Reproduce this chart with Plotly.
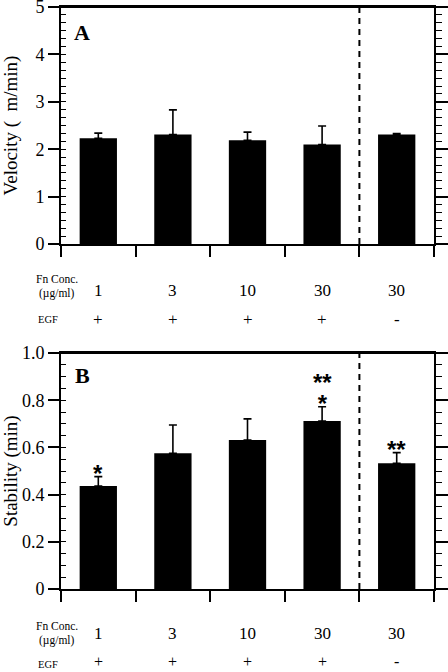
import plotly.graph_objects as go

# ---- data ----
fn_conc = ["1", "3", "10", "30", "30"]
egf = ["+", "+", "+", "+", "-"]
velocity = [2.23, 2.31, 2.19, 2.10, 2.31]
velocity_err = [0.11, 0.52, 0.17, 0.39, 0.02]
stability = [0.436, 0.575, 0.631, 0.712, 0.533]
stability_err = [0.04, 0.12, 0.09, 0.06, 0.045]
stability_sig = ["*", "", "", "**<br>*", "**"]

categories = [f"{c} {e}" for c, e in zip(fn_conc, egf)]

W, H = 448, 672
SERIF = "Liberation Serif"
BLACK = "black"

def py(px):
    return (H - px) / H

xdom = [61 / W, 434 / W]
domA = [py(244), py(7)]
domB = [py(589), py(353)]

fig = go.Figure()

err_style = dict(type="data", symmetric=False, arrayminus=[0] * 5,
                 color=BLACK, thickness=1.6, width=4)

fig.add_trace(go.Bar(x=categories, y=velocity, width=0.5, marker=dict(color=BLACK, line=dict(width=0)),
                     error_y=dict(array=velocity_err, **err_style), xaxis="x", yaxis="y",
                     showlegend=False))
fig.add_trace(go.Bar(x=categories, y=stability, width=0.5, marker=dict(color=BLACK, line=dict(width=0)),
                     error_y=dict(array=stability_err, **err_style), xaxis="x2", yaxis="y2",
                     showlegend=False))

xcommon = dict(type="category", categoryorder="array", categoryarray=categories,
               range=[-0.5, 4.5], domain=xdom, tickson="boundaries",
               ticks="outside", ticklen=11, tickwidth=1.6, tickcolor=BLACK,
               showticklabels=False, showline=True, linewidth=2, linecolor=BLACK,
               mirror=True, showgrid=False, zeroline=False, fixedrange=True, automargin=False)

yleft = dict(showline=True, linewidth=2, linecolor=BLACK, ticks="outside", ticklen=11,
             tickwidth=1.6, tickcolor=BLACK, showgrid=False, zeroline=False, ticklabeloverflow="allow",
             tickfont=dict(family=SERIF, size=18, color=BLACK),
             fixedrange=True, automargin=False)
yright = dict(showline=True, linewidth=2, linecolor=BLACK, ticks="outside", ticklen=12,
              tickwidth=1.6, tickcolor=BLACK, showgrid=False, zeroline=False,
              showticklabels=False, side="right", fixedrange=True, automargin=False)
title_font = dict(family=SERIF, size=19, color=BLACK)

fig.update_layout(
    template="none",
    xaxis=dict(anchor="y", **xcommon),
    xaxis2=dict(anchor="y2", **xcommon),
    yaxis=dict(domain=domA, anchor="x", range=[0, 5], tickvals=[0, 1, 2, 3, 4, 5],
               minor=dict(dtick=1 / 6, ticks="inside", ticklen=5, tickwidth=1.4, tickcolor=BLACK),
               title=dict(text="Velocity (  m/min)", standoff=14, font=title_font), **yleft),
    yaxis3=dict(overlaying="y", anchor="x", range=[0, 5], tickvals=[0, 1, 2, 3, 4, 5],
                minor=dict(dtick=1 / 6, ticks="outside", ticklen=6, tickwidth=1.4, tickcolor=BLACK),
                **yright),
    yaxis2=dict(domain=domB, anchor="x2", range=[0, 1.0], tickvals=[0, 0.2, 0.4, 0.6, 0.8, 1.0],
                ticktext=["0", "0.2", "0.4", "0.6", "0.8", "1.0"],
                minor=dict(dtick=0.05, ticks="inside", ticklen=5, tickwidth=1.4, tickcolor=BLACK),
                title=dict(text="Stability (min)", standoff=10, font=title_font), **yleft),
    yaxis4=dict(overlaying="y2", anchor="x2", range=[0, 1.0], tickvals=[0, 0.2, 0.4, 0.6, 0.8, 1.0],
                minor=dict(dtick=0.05, ticks="outside", ticklen=6, tickwidth=1.4, tickcolor=BLACK),
                **yright),
)

# invisible traces to activate the right-side axes
fig.add_trace(go.Scatter(x=[categories[0]], y=[None], xaxis="x", yaxis="y3", showlegend=False, hoverinfo="skip"))
fig.add_trace(go.Scatter(x=[categories[0]], y=[None], xaxis="x2", yaxis="y4", showlegend=False, hoverinfo="skip"))

# frame top lines and dashed separators between the +EGF and -EGF groups
for xr, yr in [("x", "y domain"), ("x2", "y2 domain")]:
    fig.add_shape(type="line", xref=xr + " domain", yref=yr, x0=0, x1=1, y0=1, y1=1,
                  line=dict(color=BLACK, width=2))
    fig.add_shape(type="line", xref=xr, yref=yr, x0=3.5, x1=3.5, y0=0, y1=1,
                  line=dict(color=BLACK, width=2, dash="6px,5px"))

ann = []
def label(text, x, y, size, xref="paper", yanchor="middle"):
    ann.append(dict(text=text, x=x, y=py(y), xref=xref, yref="paper", showarrow=False,
                    xanchor="center", yanchor=yanchor,
                    font=dict(family=SERIF, size=size, color=BLACK)))

# panel letters
label("<b>A</b>", 82 / W, 32, 22)
label("<b>B</b>", 82 / W, 375, 22)

# condition rows below each panel
for xr, y_fn, y_ug, y_num, y_egf in [("x", 279, 293, 290, 319), ("x2", 626, 640, 633, 664)]:
    label("Fn Conc.", 57 / W, y_fn, 11.5)
    label("(µg/ml)", 57 / W, y_ug, 11.5)
    label("EGF", 48 / W, y_egf, 10.5)
    for cat, c, e in zip(categories, fn_conc, egf):
        label(c, cat, y_num, 17, xref=xr)
        if y_egf > 650:
            # last row sits at the page bottom: anchor the box to stay inside the page
            label(e, cat, 671.5, 16, xref=xr, yanchor="bottom")
        else:
            label(e, cat, y_egf, 17, xref=xr)

# significance markers (line spacing from the base font, glyphs enlarged via span)
for cat, v, e, s in zip(categories, stability, stability_err, stability_sig):
    if s:
        txt = "<br>".join(f"<b><span style='font-size:24px'>{part}</span></b>" for part in s.split("<br>"))
        ann.append(dict(text=txt, x=cat, y=v + e, xref="x2", yref="y2", showarrow=False,
                        xanchor="center", yanchor="bottom", yshift=-12,
                        font=dict(family="Liberation Sans", size=16, color=BLACK)))

fig.update_layout(annotations=ann, width=W, height=H, autosize=False,
                  margin=dict(l=0, r=0, t=0, b=0), paper_bgcolor="white", plot_bgcolor="white",
                  bargap=0.5, showlegend=False)

fig.write_html("out.html", config={"displayModeBar": False},
               post_script="document.body.style.margin='0';document.body.style.padding='0';")
